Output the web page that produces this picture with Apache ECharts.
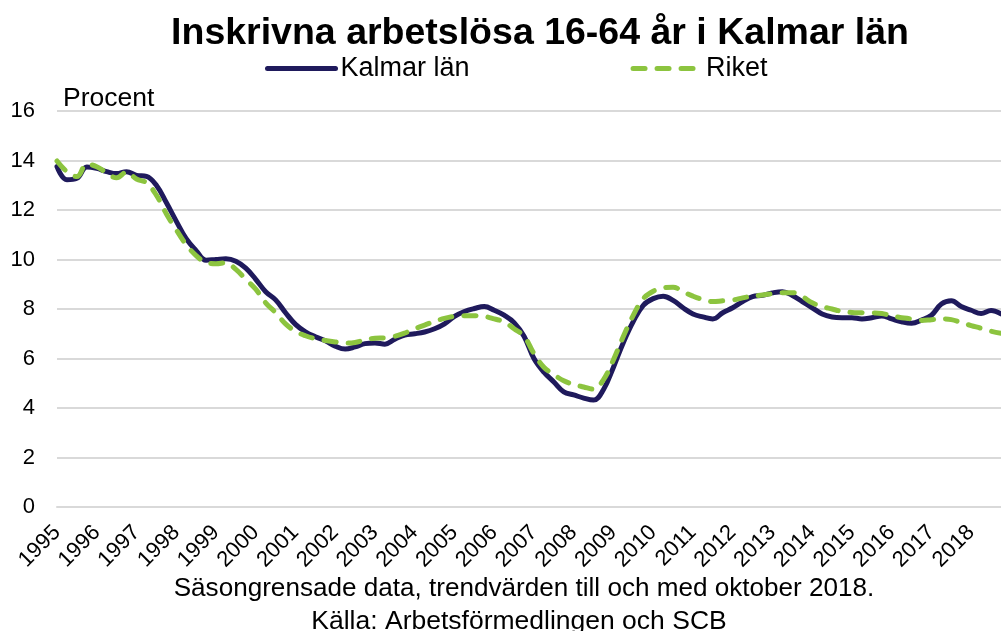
<!DOCTYPE html>
<html>
<head>
<meta charset="utf-8">
<script src="https://cdn.jsdelivr.net/npm/echarts@6/dist/echarts.min.js"></script>
<style>
  html, body { margin: 0; padding: 0; background: #fff; }
  #chart { width: 1001px; height: 631px; }
</style>
</head>
<body>
<div id="chart"></div>
<script>
// kvartalsvärden, jan/apr/jul/okt, 1995 - okt 2018
var years = [1995, 1996, 1997, 1998, 1999, 2000, 2001, 2002, 2003, 2004, 2005, 2006,
  2007, 2008, 2009, 2010, 2011, 2012, 2013, 2014, 2015, 2016, 2017, 2018];
var months = ['01', '04', '07', '10'];

var kalmar = [
  13.75, 13.22, 13.28, 13.74,  // 1995
  13.68, 13.55, 13.47, 13.55,  // 1996
  13.4, 13.36, 13.0, 12.3,     // 1997
  11.55, 10.84, 10.36, 9.97,   // 1998
  10.0, 10.03, 9.93, 9.65,     // 1999
  9.2, 8.7, 8.37, 7.85,        // 2000
  7.38, 7.08, 6.88, 6.72,      // 2001
  6.5, 6.38, 6.47, 6.6,        // 2002
  6.63, 6.58, 6.78, 6.95,      // 2003
  7.0, 7.07, 7.2, 7.4,         // 2004
  7.7, 7.9, 8.02, 8.1,         // 2005
  7.95, 7.75, 7.45, 6.9,       // 2006
  6.0, 5.45, 5.05, 4.65,       // 2007
  4.53, 4.4, 4.32, 4.75,       // 2008
  5.65, 6.65, 7.5, 8.15,       // 2009
  8.42, 8.52, 8.35, 8.05,      // 2010
  7.8, 7.68, 7.6, 7.85,        // 2011
  8.05, 8.3, 8.5, 8.55,        // 2012
  8.65, 8.7, 8.55, 8.3,        // 2013
  8.05, 7.8, 7.68, 7.65,       // 2014
  7.65, 7.6, 7.65, 7.72,       // 2015
  7.6, 7.48, 7.42, 7.55,       // 2016
  7.75, 8.2, 8.33, 8.1,        // 2017
  7.95, 7.82, 7.94, 7.8        // 2018
];

var riket = [
  13.98, 13.55, 13.35, 13.85,  // 1995
  13.75, 13.5, 13.3, 13.53,    // 1996
  13.25, 13.1, 12.6, 11.85,    // 1997
  11.2, 10.6, 10.16, 9.88,     // 1998
  9.83, 9.87, 9.6, 9.2,        // 1999
  8.8, 8.25, 7.85, 7.4,        // 2000
  7.1, 6.92, 6.8, 6.73,        // 2001
  6.67, 6.62, 6.65, 6.75,      // 2002
  6.82, 6.83, 6.9, 7.03,       // 2003
  7.2, 7.35, 7.5, 7.62,        // 2004
  7.7, 7.73, 7.73, 7.7,        // 2005
  7.6, 7.48, 7.2, 6.9,         // 2006
  6.2, 5.65, 5.35, 5.1,        // 2007
  4.95, 4.85, 4.76, 5.15,      // 2008
  5.95, 6.9, 7.75, 8.42,       // 2009
  8.72, 8.85, 8.88, 8.7,       // 2010
  8.52, 8.38, 8.3, 8.33,       // 2011
  8.36, 8.45, 8.52, 8.57,      // 2012
  8.62, 8.66, 8.66, 8.5,       // 2013
  8.25, 8.1, 8.0, 7.9,         // 2014
  7.86, 7.85, 7.84, 7.82,      // 2015
  7.72, 7.65, 7.6, 7.54,       // 2016
  7.57, 7.6, 7.57, 7.45,       // 2017
  7.33, 7.22, 7.1, 7.02        // 2018
];

var categories = [];
years.forEach(function (y) {
  months.forEach(function (m) { categories.push(y + '-' + m); });
});

var FONT = "'Liberation Sans', Arial, sans-serif";

var myChart = echarts.init(document.getElementById('chart'));

var option = {
  animation: false,
  title: [
    {
      text: 'Inskrivna arbetslösa 16-64 år i Kalmar län',
      left: 535, top: 10, textAlign: 'center',
      textStyle: { fontFamily: FONT, fontSize: 37.5, fontWeight: 'bold', color: '#000' }
    },
    {
      text: 'Procent',
      left: 58, top: 80,
      textStyle: { fontFamily: FONT, fontSize: 26.5, fontWeight: 'normal', color: '#000' }
    },
    {
      text: 'Säsongrensade data, trendvärden till och med oktober 2018.',
      left: 519, top: 571, textAlign: 'center',
      textStyle: { fontFamily: FONT, fontSize: 26.1, fontWeight: 'normal', color: '#000' }
    },
    {
      text: 'Källa: Arbetsförmedlingen och SCB',
      left: 514, top: 603, textAlign: 'center',
      textStyle: { fontFamily: FONT, fontSize: 26.5, fontWeight: 'normal', color: '#000' }
    }
  ],
  legend: {
    left: 260, top: 50,
    itemWidth: 68, itemHeight: 14, itemGap: 161,
    itemStyle: { opacity: 0 },
    lineStyle: { width: 5, cap: 'round' },
    textStyle: { fontFamily: FONT, fontSize: 27, color: '#000' },
    data: ['Kalmar län', 'Riket']
  },
  grid: { left: 57, right: 0, top: 111, bottom: 124, containLabel: false },
  xAxis: {
    type: 'category',
    boundaryGap: false,
    data: categories,
    axisLine: { show: true, lineStyle: { color: '#d9d9d9', width: 2 } },
    axisTick: { show: false },
    axisLabel: {
      interval: 3,
      rotate: 45,
      margin: 22,
      fontFamily: FONT, fontSize: 22, color: '#000',
      formatter: function (v) { return v.slice(0, 4); }
    },
    splitLine: { show: false }
  },
  yAxis: {
    type: 'value',
    min: 0, max: 16, interval: 2,
    axisLine: { show: false },
    axisTick: { show: false },
    axisLabel: { margin: 22, fontFamily: FONT, fontSize: 22, color: '#000' },
    splitLine: { lineStyle: { color: '#d9d9d9', width: 2 } }
  },
  series: [
    {
      name: 'Kalmar län',
      type: 'line',
      data: kalmar,
      symbol: 'none',
      smooth: 0.4,
      lineStyle: { color: '#1f1a5c', width: 5, cap: 'round', join: 'round' },
      itemStyle: { color: '#1f1a5c' },
      z: 2
    },
    {
      name: 'Riket',
      type: 'line',
      data: riket,
      symbol: 'none',
      smooth: 0.4,
      lineStyle: { color: '#8cc43f', width: 5, type: [12, 12], cap: 'round', join: 'round' },
      itemStyle: { color: '#8cc43f' },
      z: 3
    }
  ]
};

myChart.setOption(option);

window.addEventListener('resize', function () {
  if (myChart) {
    myChart.resize();
  }
});
</script>
</body>
</html>
